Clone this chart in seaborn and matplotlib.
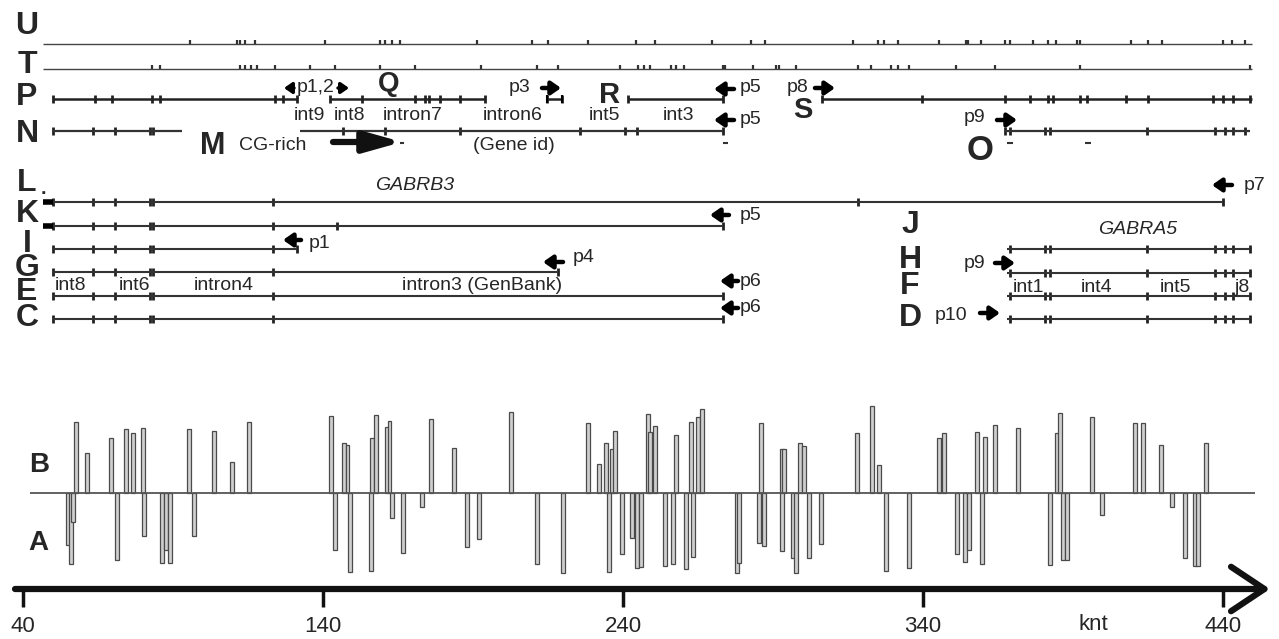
import matplotlib
matplotlib.use("Agg")
import matplotlib.pyplot as plt
import pandas as pd
import seaborn as sns

sns.set_style("white")
plt.rcParams['font.family'] = ['Liberation Sans', 'DejaVu Sans']

# ---- data (positions in knt) ----
axis_ticks = [40, 140, 240, 340, 440]

u_marks = [95.7, 111.3, 112.3, 114, 117.3, 140.7, 159, 160.7, 163, 165.7, 191.3, 209.7, 215,
           228.3, 244.3, 250.7, 269.7, 282.7, 287.3, 316.7, 325, 327, 331.7, 345.3, 354.3, 355,
           359.3, 367.3, 369, 376.7, 381.7, 384.3, 391.3, 392.3, 409.3, 415, 419.7, 440, 443, 447.3]
t_marks = [83, 85.7, 112.3, 114, 116, 118, 124, 135.7, 144, 159, 170.7, 192.7, 211.3, 218.3, 239,
           245, 247, 249, 256, 257.7, 260.3, 273.3, 274, 283.3, 291, 292, 297.7, 318.3, 322.7,
           329.3, 331.7, 335.3, 351, 364, 392.3, 449]

p_segments = [(50, 131.3), (142.3, 194), (214.7, 219.7), (241.7, 273.3), (306.3, 449.7)]
p_exons = [50, 64, 69.7, 83, 85.7, 124, 126.7, 131.3, 142.3, 153, 170.7, 174, 175.3, 179, 185.7,
           194, 214.7, 219.7, 241.7, 273.3, 306.3, 339.7, 367.3, 375.7, 381.7, 383.3, 392.3,
           394.7, 407.7, 415, 436.7, 440, 443.3, 449]
n_segments = [(50, 93), (132.3, 273.3), (367.3, 449)]
n_exons = [50, 63.3, 70.7, 82.3, 83.5, 146.7, 160.7, 185.7, 225.7, 240.7, 244.7, 273.3,
           367.3, 369, 380.7, 382.3, 414.7, 437.3, 440.7, 443.3, 447.3]

b3_exons = [50, 63.3, 70.7, 82.3, 83.5, 123.3]
l_span = (46.7, 440)
k_span = (46.7, 273.3)
i_span = (50, 131.3)
g_span = (50, 218.3)
e_span = (50, 273.3)
c_span = (50, 273.3)
a5_span = (368, 449)
a5_exons = [369, 380.7, 382.3, 414.7, 437.3, 440.7, 443.3, 449]

b_pos = [57.7, 61.3, 69.3, 74.3, 76.7, 80, 95.3, 103.7, 109.7, 115.3, 142.7, 147, 148.2, 156.3,
         157.7, 161.3, 162.2, 176, 183.7, 202.7, 228.3, 232, 234.3, 236.3, 237.3, 248.3, 249,
         250.7, 257.7, 262.7, 265, 266.3, 286, 293, 293.6, 299, 300.3, 318, 323, 325.3, 345.3,
         347, 358, 360.7, 364, 371.7, 384.7, 385.7, 396.3, 410.7, 413.3, 419.3, 434.3]
b_height = [71, 40, 55, 64, 60, 65, 64, 62, 31, 71, 77, 50, 48, 55, 78, 66, 72, 74, 45, 81, 70,
            29, 50, 44, 62, 79, 61, 67, 58, 71, 76, 84, 70, 44, 44, 50, 47, 60, 87, 28, 55, 60,
            61, 56, 68, 65, 60, 80, 76, 70, 70, 48, 50]
a_pos = [55, 56, 56.7, 71.3, 80.3, 86.3, 87.7, 89, 97, 144, 149, 156, 163, 166.7, 173, 188, 192,
         211.3, 220, 235.3, 239.7, 243, 244.7, 246, 254, 256.7, 261, 263.3, 278, 278.7, 285.3,
         287, 293, 296.7, 297.7, 302, 306, 327.7, 335.3, 351.3, 354, 355.3, 359.7, 382.3, 386.7,
         388, 399.7, 423, 427.3, 430.7, 431.7]
a_depth = [52, 71, 29, 67, 43, 70, 57, 70, 43, 57, 79, 78, 25, 60, 14, 54, 46, 71, 80, 79, 61,
           45, 75, 74, 73, 71, 76, 64, 80, 70, 50, 53, 58, 65, 80, 65, 51, 78, 75, 61, 69, 57,
           71, 72, 67, 67, 22, 14, 65, 73, 73]

NARROW = ['Liberation Sans Narrow', 'Liberation Sans', 'DejaVu Sans']


def kx(px):
    # pixel column -> knt
    return 40 + (px - 23) / 3.0


fig = plt.figure(figsize=(12.79, 6.39), dpi=100)
ax = fig.add_axes([0, 0, 1, 1])
ax.set_xlim(kx(0), kx(1279))
ax.set_ylim(639, 0)
ax.axis('off')

ROW = dict(U=44, T=69, P=99, N=131, L=202, K=226, I=249, G=272, E=296, C=319)

# U / T tracks
for key, marks, up in [('U', u_marks, True), ('T', t_marks, False)]:
    y = ROW[key]
    ax.hlines(y, 46.7, 449.7, color='#444444', lw=1.0)
    ax.vlines(marks, y - 4, y if up else y - 0.5, color='#333333', lw=1.6)

# gene tracks
rows = []
for seg in p_segments:
    ax.hlines(ROW['P'], seg[0], seg[1], color='#222222', lw=1.8)
for seg in n_segments:
    ax.hlines(ROW['N'], seg[0], seg[1], color='#333333', lw=1.6)
rows += [(x, ROW['P']) for x in p_exons] + [(x, ROW['N']) for x in n_exons]

for key, span in [('L', l_span), ('K', k_span), ('I', i_span), ('G', g_span),
                  ('E', e_span), ('C', c_span)]:
    ax.hlines(ROW[key], span[0], span[1], color='#333333', lw=1.5)
    rows += [(x, ROW[key]) for x in b3_exons if x <= span[1]]
    rows.append((span[1], ROW[key]))
rows.append((144.7, ROW['K']))
rows.append((318.3, ROW['L']))

for y in [249, 273, 296, 319]:
    ax.hlines(y, a5_span[0], a5_span[1], color='#333333', lw=1.5)
    rows += [(x, y) for x in a5_exons]

exons = pd.DataFrame(rows, columns=['knt', 'row'])
sns.scatterplot(data=exons, x='knt', y='row', marker='|', s=40, linewidth=2.0,
                color='#222222', ax=ax, legend=False)
ax.hlines(ROW['L'], 46.7, 50, color='k', lw=4)
ax.hlines(ROW['K'], 46.7, 50, color='k', lw=4)
ax.hlines([143, 143], [kx(400), 273.3], [kx(404), 275], color='#333333', lw=1.5)
ax.hlines([143, 143], [368, 394], [370, 396], color='#333333', lw=1.5)

# A / B profile
base = 493
ax.hlines(base, kx(30), kx(1255), color='#555555', lw=1.3)
ax.bar(b_pos, [-h for h in b_height], bottom=base, width=1.15, color='#cfcfcf',
       edgecolor='#4a4a4a', linewidth=0.9)
ax.bar(a_pos, a_depth, bottom=base, width=1.15, color='#cfcfcf',
       edgecolor='#4a4a4a', linewidth=0.9)

# knt axis
ax.annotate('', xy=(kx(1270), 589), xytext=(kx(15), 589),
            arrowprops=dict(arrowstyle='->,head_length=1.2,head_width=0.8', lw=4.5,
                            color='#111111', mutation_scale=20, shrinkA=0, shrinkB=0))
ax.vlines(axis_ticks, 589, 607, color='#111111', lw=2.5)
for t in axis_ticks:
    ax.text(t, 626, str(t), ha='center', va='center', fontsize=16)
ax.text(kx(1093), 624, 'knt', ha='center', va='center', fontsize=16)


def arrow(x0, x1, y, lw=3.2, ms=11):
    ax.annotate('', xy=(kx(x1), y), xytext=(kx(x0), y),
                arrowprops=dict(arrowstyle='-|>,head_length=0.5,head_width=0.35', lw=lw,
                                color='k', mutation_scale=ms, shrinkA=0, shrinkB=0))


def label(px, y, s, size=14, **kw):
    ax.text(kx(px), y, s, ha='center', va='center', fontsize=size, **kw)


# left row letters
for s, y in [('U', 26), ('T', 65), ('P', 97), ('N', 134), ('L', 183), ('K', 214),
             ('I', 244), ('G', 268), ('E', 292), ('C', 318)]:
    label(27, y, s, size=23, fontweight='bold', family=NARROW)
label(43, 189, '.', size=14, fontweight='bold')
for s, y in [('J', 225), ('H', 260), ('F', 286), ('D', 318)]:
    label(910, y, s, size=23, fontweight='bold', family=NARROW)
for s, px, y, size in [('Q', 389, 84, 20), ('R', 610, 95, 21), ('S', 803, 110, 21),
                       ('M', 213, 146, 22), ('O', 980, 150, 25)]:
    label(px, y, s, size=size, fontweight='bold')
label(39, 465, 'B', size=20, fontweight='bold')
label(38, 543, 'A', size=20, fontweight='bold')

# primer arrows and labels
arrow(294, 284, 88, lw=2.5, ms=9)
label(316, 88, 'p1,2')
arrow(338, 349, 88, lw=2.5, ms=9)
label(520, 88, 'p3')
arrow(542, 561, 88)
ax.vlines([214.7, 219.7], 95, 103, color='k', lw=1.5)
for y in [89, 120]:
    arrow(734, 714, y)
    label(751, y - 1, 'p5')
label(798, 88, 'p8')
arrow(815, 835, 88)
label(975, 117, 'p9')
arrow(997, 1017, 120)
arrow(1232, 1212, 185)
label(1255, 185, 'p7')
arrow(729, 710, 215)
label(751, 215, 'p5')
arrow(301, 283, 240)
label(320, 244, 'p1')
arrow(563, 543, 262)
label(584, 258, 'p4')
for y in [281, 308]:
    arrow(738, 720, y)
    label(751, y, 'p6')
label(975, 264, 'p9')
arrow(995, 1015, 263)
label(951, 315, 'p10')
arrow(980, 1000, 313)

# CG-rich arrow
ax.annotate('', xy=(kx(402), 142), xytext=(kx(333), 142),
            arrowprops=dict(arrowstyle='-|>,head_length=1.6,head_width=0.45', lw=4.5,
                            color='#111111', mutation_scale=14, shrinkA=0, shrinkB=0))

# intron annotations
for s, px in [('int9', 309), ('int8', 350), ('intron7', 413), ('intron6', 513),
              ('int5', 605), ('int3', 678)]:
    label(px, 116, s, size=14)
label(514, 146, '(Gene id)', size=14)
label(273, 145, 'CG-rich', size=14)
label(415, 186, 'GABRB3', size=14, style='italic')
label(1138, 229, 'GABRA5', size=14, style='italic')
for s, px in [('int8', 71), ('int6', 135), ('intron4', 224), ('intron3 (GenBank)', 482)]:
    label(px, 285, s, size=14)
for s, px in [('int1', 1029), ('int4', 1097), ('int5', 1176), ('j8', 1242)]:
    label(px, 287, s, size=14)

fig.savefig('out.png', dpi=100)
plt.close('all')
